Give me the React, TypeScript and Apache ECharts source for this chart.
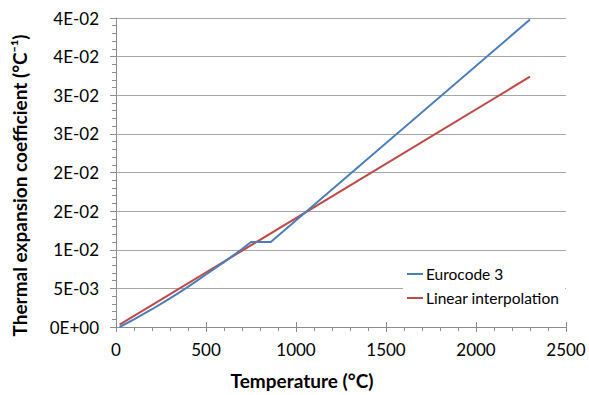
import React, { useEffect, useRef } from "react";
import * as echarts from "echarts";

const temperatures: number[] = [20, 100, 200, 300, 400, 500, 600, 700, 750, 860, 2300];
const eurocode3: number[] = [0.0, 0.001, 0.0023, 0.0037, 0.0052, 0.0068, 0.0084, 0.0101, 0.011, 0.011, 0.0398];
const linearTemps: number[] = [20, 2300];
const linearValues: number[] = [0.0003, 0.0324];
const seriesNames: string[] = ["Eurocode 3", "Linear interpolation"];
const xTitle = "Temperature (°C)";
const yTitle = "Thermal expansion coefficient (°C⁻¹)";

const FONT = "Lato, 'Open Sans', sans-serif";

function sci(v: number): string {
  if (Math.abs(v) < 1e-12) return "0E+00";
  const r = Math.round(v * 1e8) / 1e8;
  const s = (r * (1 + 1e-9)).toExponential(0); // e.g. "3e-2"
  const [m, e] = s.split("e");
  const exp = parseInt(e, 10);
  const sign = exp < 0 ? "-" : "+";
  const abs = Math.abs(exp);
  return m + "E" + sign + (abs < 10 ? "0" + abs : String(abs));
}

export default function App() {
  const ref = useRef<HTMLDivElement>(null);
  useEffect(() => {
    document.body.style.margin = "0";
    if (!ref.current) return;
    const chart = echarts.init(ref.current, undefined, { renderer: "svg" });
    const axisGray = "#8c8c8c";
    chart.setOption({
      animation: false,
      backgroundColor: "#ffffff",
      grid: { left: 116, right: 23, top: 18, bottom: 64, containLabel: false },
      legend: {
        orient: "vertical",
        left: 403,
        top: 262,
        backgroundColor: "#ffffff",
        padding: [4, 6, 4, 4],
        itemGap: 8,
        itemWidth: 16,
        itemHeight: 2,
        icon: "rect",
        textStyle: { fontFamily: FONT, fontSize: 15.5, color: "#000", padding: [0, 0, 0, -2] },
        data: seriesNames,
      },
      xAxis: [
        {
          type: "value",
          min: 0,
          max: 2500,
          interval: 500,
          name: xTitle,
          nameLocation: "middle",
          nameGap: 44,
          nameTextStyle: {
            fontFamily: FONT,
            fontSize: 19,
            fontWeight: "bold",
            color: "#000",
            padding: [0, 78, 0, 0],
          },
          axisLine: { show: true, lineStyle: { color: axisGray, width: 1 } },
          axisTick: { show: true, length: 5, lineStyle: { color: axisGray } },
          minorTick: { show: true, splitNumber: 5, length: 4, lineStyle: { color: axisGray } },
          splitLine: { show: false },
          axisLabel: {
            fontFamily: FONT,
            fontSize: 17,
            color: "#000",
            margin: 14,
            formatter: (v: number) => String(v),
          },
        },
        {
          type: "value",
          position: "bottom",
          offset: 0,
          min: 0,
          max: 2500,
          interval: 500,
          axisLine: { show: false },
          axisTick: { show: true, inside: true, length: 5, lineStyle: { color: axisGray } },
          splitLine: { show: false },
          axisLabel: { show: false },
        },
      ],
      yAxis: {
        type: "value",
        min: 0,
        max: 0.04,
        interval: 0.005,
        name: yTitle,
        nameLocation: "middle",
        nameGap: 87,
        nameTextStyle: {
          fontFamily: FONT,
          fontSize: 19,
          fontWeight: "bold",
          color: "#000",
          padding: [0, 26, 0, 0],
        },
        axisLine: { show: true, lineStyle: { color: axisGray, width: 1 } },
        axisTick: { show: true, length: 6, lineStyle: { color: axisGray } },
        minorTick: { show: true, splitNumber: 5, length: 4, lineStyle: { color: axisGray } },
        splitLine: { show: true, lineStyle: { color: "#a6a6a6", width: 1 } },
        axisLabel: {
          fontFamily: FONT,
          fontSize: 17,
          color: "#000",
          margin: 17,
          formatter: (v: number) => sci(v),
        },
      },
      series: [
        {
          name: seriesNames[0],
          type: "line",
          xAxisIndex: 0,
          showSymbol: false,
          symbol: "none",
          lineStyle: { color: "#4a7ebb", width: 2 },
          itemStyle: { color: "#4a7ebb" },
          data: temperatures.map((t, i) => [t, eurocode3[i]]),
          z: 3,
        },
        {
          name: seriesNames[1],
          type: "line",
          xAxisIndex: 0,
          showSymbol: false,
          symbol: "none",
          lineStyle: { color: "#be4b48", width: 2 },
          itemStyle: { color: "#be4b48" },
          data: linearTemps.map((t, i) => [t, linearValues[i]]),
          z: 2,
        },
      ],
    });
    return () => chart.dispose();
  }, []);
  return <div ref={ref} style={{ width: 589, height: 395 }} />;
}
